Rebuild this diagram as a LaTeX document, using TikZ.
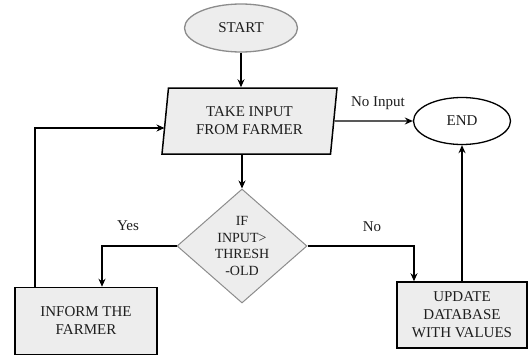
\documentclass[tikz,border=0pt]{standalone}
\usepackage{fontspec}
\setmainfont{Liberation Serif}
\usetikzlibrary{shapes.geometric,arrows.meta}
\definecolor{boxfill}{HTML}{EDEDED}
\definecolor{softline}{HTML}{8C8C8C}
\definecolor{inktext}{HTML}{1E1E1E}
\begin{document}
\begin{tikzpicture}[x=1pt,y=-1pt]

\tikzstyle{every node}+=[inner sep=0pt,text=inktext,font=\fontsize{15}{18}\selectfont,align=center]
\tikzstyle{terminal}=[ellipse,draw,line width=1.3pt]
\tikzstyle{iobox}=[trapezium,trapezium left angle=77,trapezium right angle=103,trapezium stretches body,draw,line width=1.5pt,fill=boxfill,minimum width=175,minimum height=66]
\tikzstyle{decisionbox}=[diamond,draw=softline,line width=1pt,fill=boxfill,minimum width=130,minimum height=114,aspect=1.14,font=\fontsize{14}{16.5}\selectfont]
\tikzstyle{processbox}=[rectangle,draw,line width=1.5pt,fill=boxfill]
\tikzstyle{flow}=[line width=1.3pt,-{Stealth[length=8pt,width=7pt]}]
\useasboundingbox (0,0) rectangle (528,356);
\node [terminal,draw=softline,fill=boxfill,minimum width=113,minimum height=48] (start) at (241,28) {START};
\node [iobox] (input) at (249.5,121) {TAKE INPUT\\FROM FARMER};
\node [terminal,fill=white,minimum width=97,minimum height=47] (stop) at (462,121) {END};
\node [decisionbox] (decision) at (242,246) {IF\\INPUT>\\THRESH\\-OLD};
\node [processbox,minimum width=142,minimum height=67] (inform) at (86,321) {INFORM THE\\FARMER};
\node [processbox,minimum width=130,minimum height=66] (update) at (462,315) {UPDATE\\DATABASE\\WITH VALUES};
\coordinate (loop) at (35,128);
\draw [flow] (start) -- (start |- input.north);
\draw [flow] (decision.north |- input.south) -- (decision.north);
\draw [flow] (input.east) -- (stop.west);
\draw (378,103) node {No Input};
\draw [flow] (decision.west) -| ([xshift=16]inform.north);
\draw (128,226) node {Yes};
\draw [flow] (decision.east) -| ([xshift=-48]update.north);
\draw (372,227) node {No};
\draw [flow] (update.north) -- (stop.south);
\draw [flow] (loop |- inform.north) -- (loop) -- (loop -| input.west);
\end{tikzpicture}
\end{document}
